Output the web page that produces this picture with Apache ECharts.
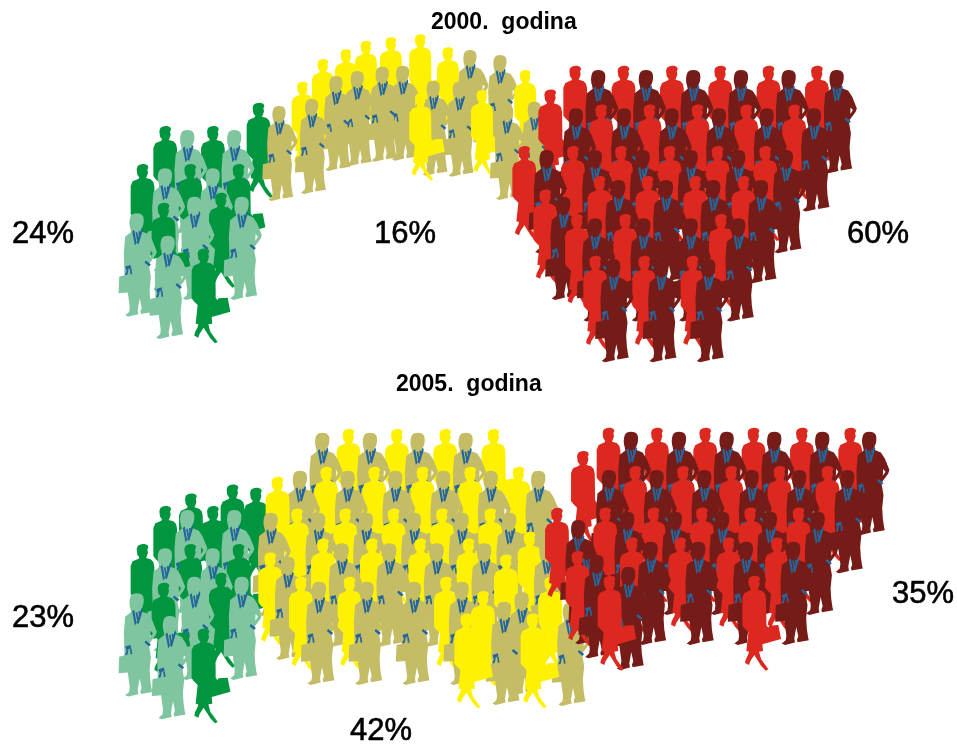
<!DOCTYPE html>
<html><head><meta charset="utf-8">
<style>html,body{margin:0;padding:0;background:#fff}#c{width:957px;height:745px}</style>
<script src="https://cdn.jsdelivr.net/npm/echarts@6/dist/echarts.min.js"></script></head>
<body><div id="c"></div>
<script>
// Head-top position of each figure, on a 957 x 745 sheet scale.
const green2000Women=[[165,126],[212.7,126],[142.3,164],[190,164],[238.3,164],[163.3,202.7],[220.7,192.7],[203.3,248.3],[258.3,102.7]];
const green2000Men=[[187.3,130],[234.3,130],[165,168.3],[212.7,168.3],[194.3,196.7],[241.7,196.7],[136.7,213.3],[167.7,235.7]];
const yellow2000Women=[[302.3,81.7],[322.7,59],[345.7,49.3],[365.7,40.7],[390.7,37.3],[420,34.3],[447.7,47.3],[525,70],[420,93.3],[481.7,90]];
const yellow2000Men=[[279,106],[311.7,99],[336,76],[357.3,71],[382.3,66.7],[402.7,65.7],[433.3,80.7],[470,50],[500,55],[459.3,81.7],[506.7,105],[534.3,101.7]];
const red2000Women=[[575,65.7],[623.3,65.7],[671.7,65.7],[720,65.7],[768.3,65.7],[816.7,65.7],[601,104.3],[649.3,104.3],[697.3,104.3],[746,104.3],[794,104.3],[572.7,146],[620.7,146],[669.3,146],[717.3,146],[765,146],[550,89.3],[524,146],[545,189.3],[599.3,176],[647.3,176],[695,176],[743.3,176],[576.7,214],[625,214],[720.7,214],[595,255.7],[644,255.7],[692.3,255.7]];
const red2000Men=[[598.3,70],[646,70],[693.3,70],[741,70],[788.7,70],[836.7,70],[576,108.3],[624,108.3],[671.7,108.3],[719,108.3],[766.7,108.3],[814,108.3],[546.7,150],[595,150],[642.7,150],[690.7,150],[738.3,150],[786,150],[618.3,180],[666,180],[713.3,180],[761,180],[563.3,196.7],[595,218.3],[643.3,218.3],[690.7,218.3],[738.3,218.3],[613.3,259],[661,259],[708.3,259]];
const green2005Women=[[165,506],[212.7,506],[142.3,544],[190,544],[238.3,544],[163.3,582.7],[220.7,572.7],[203.3,628.3],[190.7,493.3],[232.3,484.3],[255.7,487.7]];
const green2005Men=[[187.3,510],[234.3,510],[165,548.3],[212.7,548.3],[194.3,576.7],[241.7,576.7],[136.7,593.3],[170,616]];
const yellow2005Women=[[348.3,429],[396.7,429],[445,429],[493.3,429],[326,466.7],[374,466.7],[422.3,466.7],[470,466.7],[518.3,466.7],[277.3,476.7],[296.7,508.3],[345,508.3],[393.3,508.3],[441.7,508.3],[490,508.3],[322.7,538.3],[371.7,538.3],[420,538.3],[468.3,538.3],[529.3,531.7],[270,552.3],[300.7,576.7],[349.3,576.7],[445.7,576.7],[550,576.7],[505.7,554.3],[482.7,591],[466,613.3],[532.3,613.3]];
const yellow2005Men=[[322.3,432.7],[370,432.7],[417.7,432.7],[465.7,432.7],[300,470.7],[347.7,470.7],[395.3,470.7],[443.3,470.7],[490.7,470.7],[538.3,470.7],[270.7,512.7],[318.3,512.7],[366,512.7],[414,512.7],[461.7,512.7],[509.3,512.7],[341.7,543.3],[389.3,543.3],[436.7,543.3],[484.3,543.3],[546.7,543],[287.7,556.7],[319,581.7],[366.7,581.7],[414,581.7],[461.7,581.7],[521.7,592],[504,601.7],[570,602.7]];
const red2005Women=[[608.3,427.7],[656.7,427.7],[705,427.7],[753.3,427.7],[801.7,427.7],[850,427.7],[582.7,451],[635,466],[682.7,466],[731,466],[779.3,466],[827.3,466],[605,507.3],[653.3,507.3],[701.7,507.3],[750,507.3],[798.3,507.3],[556.7,507.7],[631.7,537.3],[680,537.3],[728.3,537.3],[776.7,537.3],[577.3,551],[609.3,575.7],[754,575.7]];
const red2005Men=[[631,431.7],[679,431.7],[726.7,431.7],[774.3,431.7],[822.3,431.7],[869.3,431.7],[609,470],[656.7,470],[704.3,470],[751.7,470],[799.3,470],[847.3,470],[627.3,511.7],[675,511.7],[722.3,511.7],[770,511.7],[817.7,511.7],[578.3,520],[586.7,541],[650.7,541.7],[698.3,541.7],[746,541.7],[793.3,541.7],[596.7,555],[628.3,566.7]];
const shareLabels2000=['24%','16%','60%'];
const shareLabels2005=['23%','42%','35%'];
const panelTitles=['2000.  godina','2005.  godina'];

const WOMAN='path://M0 0L0 0ZM116 285L116 285ZM20 8C26 -2 46 -2 52 6C54 10 52 14 50 16L52 26L48 38L46 42L60 46L68 54L71 68L72 130L72 148L78 156L80 150L108 148L116 190L60 206L62 226L50 228L56 250L78 281L70 285L56 270L36 238L24 256L20 268L8 262L10 252L18 236L20 228L12 226L18 170L6 158L0 150L0 66L6 52L24 44L26 40L20 32L18 16Z';
const MAN='path://M0 0L0 0ZM115 310L115 310ZM36 10C40 -4 70 -4 75 10C78 20 76 34 72 42L68 50L70 54L90 62L102 80L116 115L112 126L94 150L92 156L98 190L94 230L96 262L100 288L102 296L68 302L66 294L70 284L64 256L58 290L60 303L30 310L20 306L32 296L34 282L28 238L0 240L2 190L18 186L16 120L20 70L38 56L36 46C32 36 32 20 36 10ZM97 112L96 132L104 120Z';
const TRIM='path://M0 0L0 0ZM115 310L115 310ZM41 54L47 50L54 90L49 97ZM69 45L73 50L60 93L54 88ZM51 58L56 56L61 82L56 84ZM60 54L65 54L65 76L61 78ZM20 160L36 155L38 164L23 171ZM25 170L30 170L26 185L19 185ZM34 166L39 166L41 183L36 183ZM78 148L82 142L97 154L92 160Z';
const BLUE='#22669c';
function figures(name,women,men,colW,colM,scale){
  const list=women.map(p=>({p,k:'w'})).concat(men.map(p=>({p,k:'m'}))).sort((a,b)=>a.p[1]-b.p[1]);
  const data=[];
  list.forEach(f=>{
    if(f.k==='w'){
      data.push({value:f.p,symbol:WOMAN,symbolSize:[38.7*scale,95*scale],symbolOffset:[7.7*scale,47.5*scale],itemStyle:{color:colW,opacity:1}});
    }else{
      const size=[38.3*scale,103.3*scale],off=[1*scale,51.6*scale];
      data.push({value:f.p,symbol:MAN,symbolSize:size,symbolOffset:off,itemStyle:{color:colM,opacity:1}});
      data.push({value:f.p,symbol:TRIM,symbolSize:size,symbolOffset:off,itemStyle:{color:BLUE,opacity:1}});
    }
  });
  return {type:'scatter',name,data,silent:true,progressive:0,large:false};
}
const series=[
  figures('2000 green',green2000Women,green2000Men,'#009640','#7fc5a0',1),
  figures('2000 yellow',yellow2000Women,yellow2000Men,'#fff200','#c5bc66',0.92),
  figures('2000 red',red2000Women,red2000Men,'#dc281e','#761c18',1),
  figures('2005 green',green2005Women,green2005Men,'#009640','#7fc5a0',1),
  figures('2005 yellow',yellow2005Women,yellow2005Men,'#fff200','#c5bc66',1),
  figures('2005 red',red2005Women,red2005Men,'#dc281e','#761c18',1)
];
const pct={fontFamily:'Liberation Sans',fontSize:31,fontWeight:'normal',color:'#000',textBorderColor:'#000',textBorderWidth:0.6};
const ttl={fontFamily:'Liberation Sans',fontSize:23,fontWeight:'bold',color:'#000'};
function t(text,x,y,style){return {text,left:x,top:y,padding:0,textStyle:style};}
const chart=echarts.init(document.getElementById('c'),null,{renderer:'canvas'});
chart.setOption({
  animation:false,backgroundColor:'#fff',
  grid:{left:0,right:0,top:0,bottom:0},
  xAxis:{type:'value',min:0,max:957,show:false},
  yAxis:{type:'value',min:0,max:745,inverse:true,show:false},
  title:[
    t(panelTitles[0],431,11,ttl),t(panelTitles[1],396,373,ttl),
    t(shareLabels2000[0],12,219,pct),t(shareLabels2000[1],374,219,pct),t(shareLabels2000[2],847,219,pct),
    t(shareLabels2005[0],12,603,pct),t(shareLabels2005[1],350,716,pct),t(shareLabels2005[2],892,579,pct)
  ],
  series
});
</script></body></html>
